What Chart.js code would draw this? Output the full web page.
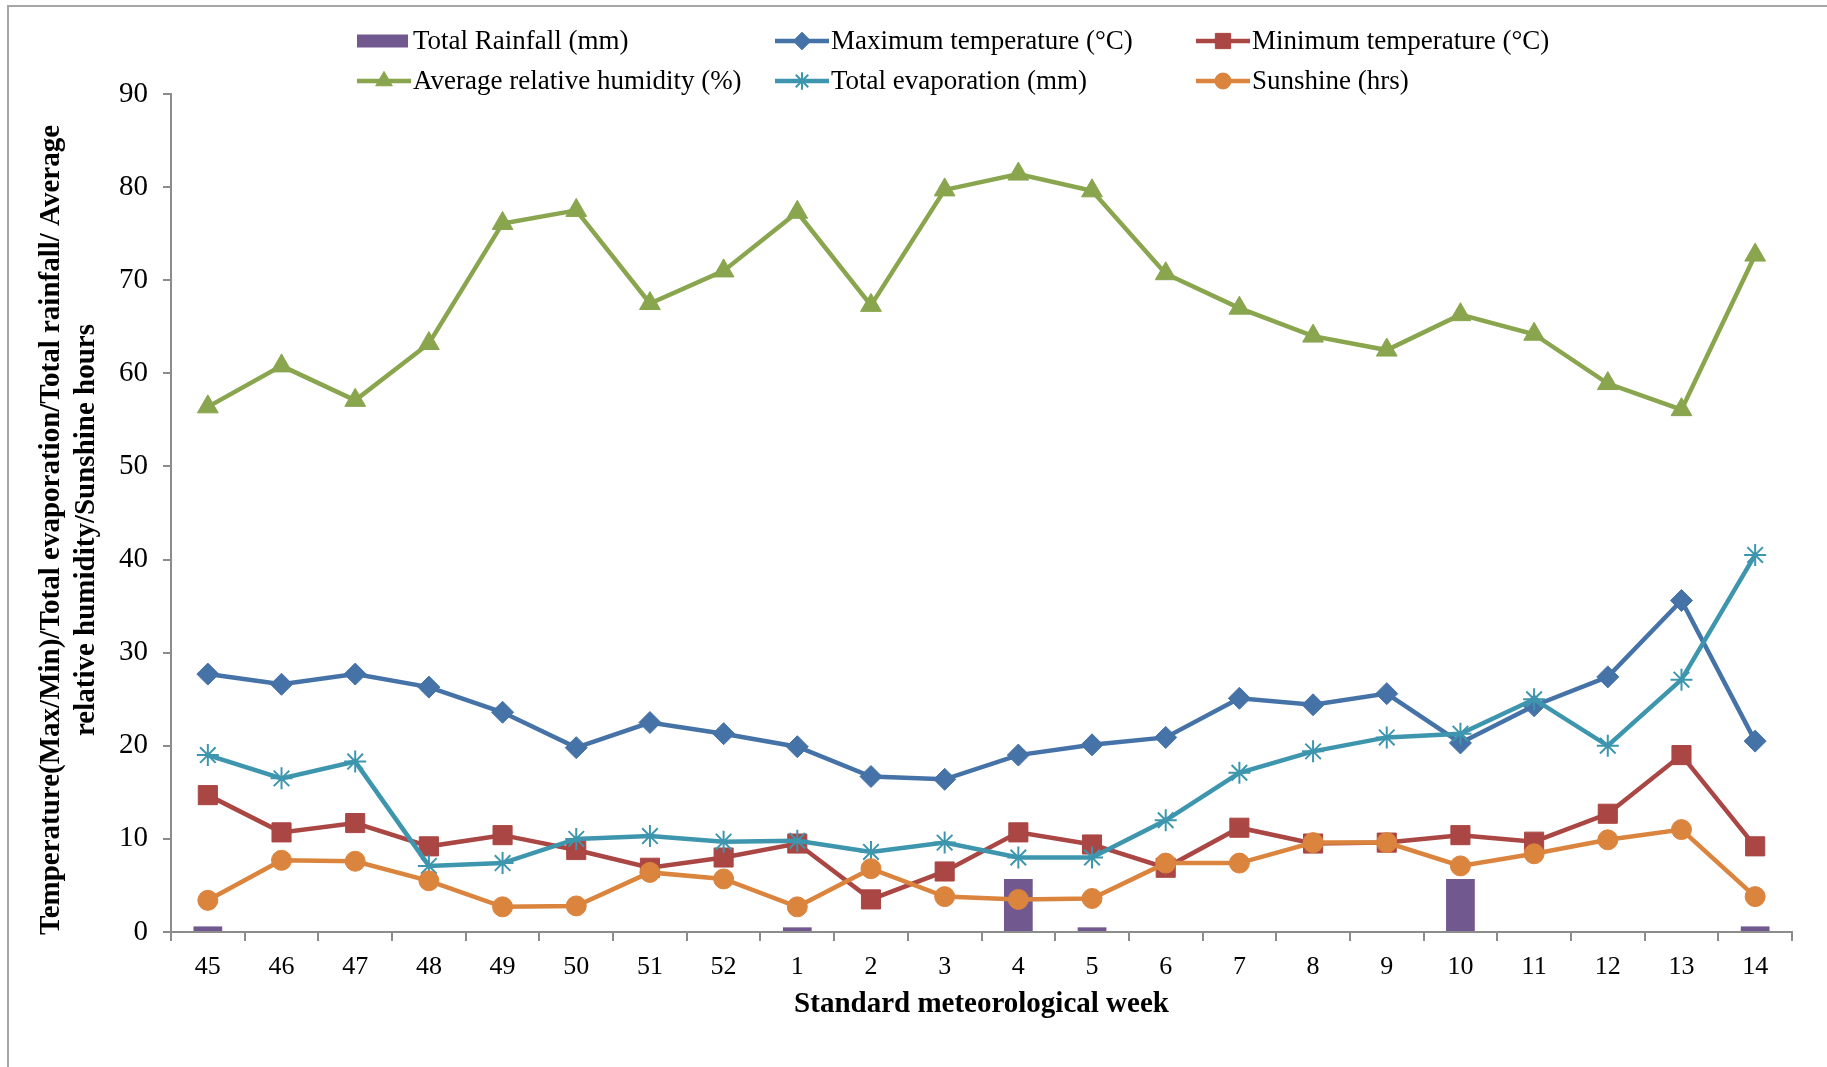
<!DOCTYPE html>
<html>
<head>
<meta charset="utf-8">
<title>Weekly weather</title>
<script src="https://cdn.jsdelivr.net/npm/chart.js@4.4.0/dist/chart.umd.min.js"></script>
<style>
    html, body { margin: 0; padding: 0; background: #fff; overflow: hidden; }
    #wrap { position: relative; width: 1827px; height: 1067px; }
    #frame { position: absolute; left: 7px; top: 5px; width: 1900px; height: 1100px;
             border-left: 2px solid #a6a6a6; border-top: 2px solid #a6a6a6; }
    #chartCanvas { position: absolute; left: 0; top: 0; }
</style>
</head>
<body>
<div id="wrap">
    <div id="frame"></div>
    <canvas id="chartCanvas" width="1827" height="1067"></canvas>
</div>
<script>
const weeks = ['45', '46', '47', '48', '49', '50', '51', '52', '1', '2', '3',
               '4', '5', '6', '7', '8', '9', '10', '11', '12', '13', '14'];

const rainfall    = [0.6, 0, 0, 0, 0, 0, 0, 0, 0.5, 0.1, 0, 5.7, 0.5, 0, 0, 0, 0, 5.7, 0, 0, 0, 0.6];
const maxTemp     = [27.7, 26.6, 27.7, 26.3, 23.6, 19.8, 22.5, 21.3, 19.9, 16.7, 16.4,
                     19.0, 20.1, 20.9, 25.1, 24.4, 25.6, 20.3, 24.3, 27.4, 35.6, 20.5];
const minTemp     = [14.7, 10.7, 11.7, 9.2, 10.4, 8.8, 6.9, 8.0, 9.5, 3.5, 6.5,
                     10.7, 9.4, 6.9, 11.2, 9.5, 9.6, 10.4, 9.7, 12.7, 19.0, 9.2];
const humidity    = [56.4, 60.8, 57.1, 63.2, 76.1, 77.5, 67.5, 71.0, 77.3, 67.3, 79.7,
                     81.4, 79.6, 70.7, 67.0, 64.0, 62.5, 66.3, 64.2, 58.9, 56.1, 72.7];
const evaporation = [19.0, 16.5, 18.3, 7.1, 7.4, 10.0, 10.3, 9.7, 9.8, 8.6, 9.6,
                     8.0, 8.0, 12.0, 17.1, 19.4, 20.9, 21.3, 25.0, 20.0, 27.1, 40.5];
const sunshine    = [3.4, 7.7, 7.6, 5.5, 2.7, 2.8, 6.4, 5.7, 2.7, 6.8, 3.8,
                     3.5, 3.6, 7.4, 7.4, 9.6, 9.6, 7.1, 8.4, 9.9, 11.0, 3.8];

const yTicksMax = 90;
const yTicksStep = 10;

const xTitle = 'Standard meteorological week';
const yTitleLines = ['Temperature(Max/Min)/Total evaporation/Total rainfall/ Average',
                     'relative humidity/Sunshine hours'];

const FONT = '"Liberation Serif", "Times New Roman", serif';
const AXIS_GREY = '#8c8c8c';

const COLORS = {
    rain: '#71588F',
    max: '#4572A7',
    min: '#AA4643',
    hum: '#89A54E',
    evap: '#3D96AE',
    sun: '#DB843D'
};

// legend is laid out like Excel: 3 columns, 2 rows
const LEGEND = {
    cols: [357, 775, 1196],
    rows: [41, 81],
    lineLen: 54,
    textGap: 2
};

// y title sits a little below the middle of the axis, like the original
const Y_TITLE = { x: 52, y: 530, lineGap: 35 };

function lineSet(label, data, color, style, radius, order, extra) {
    return Object.assign({
        type: 'line',
        label: label,
        data: data,
        borderColor: color,
        backgroundColor: color,
        borderWidth: 4.5,
        pointStyle: style,
        pointRadius: radius,
        pointBackgroundColor: color,
        pointBorderColor: color,
        pointBorderWidth: 1,
        tension: 0,
        fill: false,
        order: order
    }, extra || {});
}

const legendPlugin = {
    id: 'gridLegend',
    afterDraw(chart) {
        const ctx = chart.ctx;
        ctx.save();
        chart.data.datasets.forEach((ds, i) => {
            const x = LEGEND.cols[i % 3];
            const y = LEGEND.rows[Math.floor(i / 3)];

            if (ds.type === 'line') {
                ctx.strokeStyle = ds.borderColor;
                ctx.lineWidth = ds.borderWidth;
                ctx.beginPath();
                ctx.moveTo(x, y);
                ctx.lineTo(x + LEGEND.lineLen, y);
                ctx.stroke();

                ctx.fillStyle = ds.pointBackgroundColor;
                ctx.strokeStyle = ds.pointBorderColor;
                ctx.lineWidth = ds.pointBorderWidth;
                Chart.helpers.drawPoint(ctx, {
                    pointStyle: ds.pointStyle,
                    radius: ds.pointRadius * 0.8,
                    rotation: 0,
                    borderWidth: ds.pointBorderWidth
                }, x + LEGEND.lineLen / 2, y);
            } else {
                ctx.fillStyle = ds.backgroundColor;
                ctx.fillRect(x, y - 6.5, LEGEND.lineLen - 3, 13);
            }

            ctx.fillStyle = '#000';
            ctx.font = '27px ' + FONT;
            ctx.textAlign = 'left';
            ctx.textBaseline = 'middle';
            ctx.fillText(ds.label, x + LEGEND.lineLen + LEGEND.textGap, y + 1);
        });
        ctx.restore();
    }
};

const yTitlePlugin = {
    id: 'yTitle',
    afterDraw(chart) {
        const ctx = chart.ctx;
        ctx.save();
        ctx.translate(Y_TITLE.x, Y_TITLE.y);
        ctx.rotate(-Math.PI / 2);
        ctx.fillStyle = '#000';
        ctx.font = 'bold 29px ' + FONT;
        ctx.textAlign = 'center';
        ctx.textBaseline = 'middle';
        yTitleLines.forEach((line, i) => {
            ctx.fillText(line, 0, i * Y_TITLE.lineGap);
        });
        ctx.restore();
    }
};

const ctx = document.getElementById('chartCanvas').getContext('2d');
const chart = new Chart(ctx, {
    type: 'bar',
    data: {
        labels: weeks,
        datasets: [
            {
                type: 'bar',
                label: 'Total Rainfall (mm)',
                data: rainfall,
                backgroundColor: COLORS.rain,
                borderWidth: 0,
                barPercentage: 0.39,
                categoryPercentage: 1,
                order: 9
            },
            lineSet('Maximum temperature (°C)', maxTemp, COLORS.max, 'rectRot', 11, 6),
            lineSet('Minimum temperature (°C)', minTemp, COLORS.min, 'rect', 13.5, 5),
            lineSet('Average relative humidity (%)', humidity, COLORS.hum, 'triangle', 12, 4),
            lineSet('Total evaporation (mm)', evaporation, COLORS.evap, 'star', 11, 3, { pointBorderWidth: 2 }),
            lineSet('Sunshine (hrs)', sunshine, COLORS.sun, 'circle', 10, 1)
        ]
    },
    options: {
        responsive: false,
        animation: false,
        devicePixelRatio: 1,
        layout: {
            padding: { left: 0, right: 35, top: 94, bottom: 0 }
        },
        plugins: {
            legend: { display: false },
            tooltip: { enabled: false }
        },
        scales: {
            x: {
                offset: true,
                grid: {
                    display: true,
                    offset: true,
                    drawOnChartArea: false,
                    drawTicks: true,
                    tickLength: 9,
                    color: AXIS_GREY,
                    lineWidth: 2
                },
                border: { display: true, color: AXIS_GREY, width: 2 },
                ticks: {
                    color: '#000',
                    font: { family: FONT, size: 26 },
                    padding: 11,
                    autoSkip: false,
                    maxRotation: 0
                },
                title: {
                    display: true,
                    text: xTitle,
                    color: '#000',
                    font: { family: FONT, size: 29, weight: 'bold' },
                    padding: { top: 0, bottom: 45 }
                },
                afterFit(scale) {
                    scale.height = 135;
                }
            },
            y: {
                min: 0,
                max: yTicksMax,
                grid: {
                    drawOnChartArea: false,
                    drawTicks: true,
                    tickLength: 8,
                    color: AXIS_GREY,
                    lineWidth: 2
                },
                border: { display: true, color: AXIS_GREY, width: 2 },
                ticks: {
                    stepSize: yTicksStep,
                    color: '#000',
                    font: { family: FONT, size: 29 },
                    padding: 15
                },
                title: { display: false },
                afterFit(scale) {
                    scale.width = 171;
                }
            }
        }
    },
    plugins: [legendPlugin, yTitlePlugin]
});
</script>
</body>
</html>
